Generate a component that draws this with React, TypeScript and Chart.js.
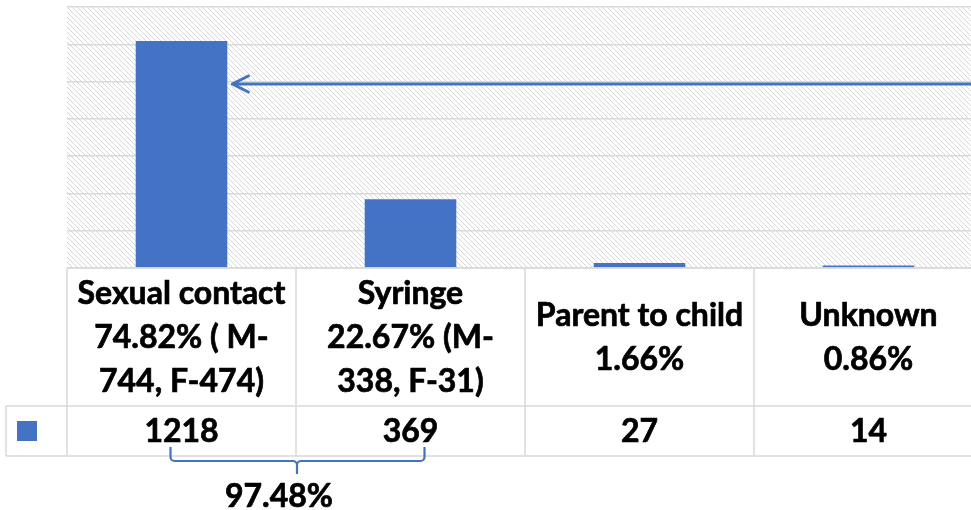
import React, { useEffect, useRef } from "react";
import { Chart, registerables } from "chart.js";

Chart.register(...registerables);

const categoryLines: string[][] = [
  ["Sexual contact", "74.82% ( M-", "744, F-474)"],
  ["Syringe", "22.67% (M-", "338, F-31)"],
  ["Parent to child", "1.66%"],
  ["Unknown", "0.86%"],
];
const categories = categoryLines.map((l) => l.join(" "));
const values = [1218, 369, 27, 14];
const yMax = 1400;
const yStep = 200;
const arrowLevel = 987;
const bracketLabel = "97.48%";

const BLUE = "#4472C4";
const GRID = "#d9d9d9";
const FONT = "bold 32px Lato, 'Open Sans', sans-serif";

function makePattern(): CanvasPattern | string {
  const c = document.createElement("canvas");
  c.width = 5;
  c.height = 5;
  const g = c.getContext("2d");
  if (!g) return "#f2f2f2";
  g.fillStyle = "#ffffff";
  g.fillRect(0, 0, 5, 5);
  g.strokeStyle = "#d6d6d6";
  g.lineWidth = 1;
  g.beginPath();
  g.moveTo(-1, -1);
  g.lineTo(6, 6);
  g.moveTo(-1, 4);
  g.lineTo(1, 6);
  g.moveTo(4, -1);
  g.lineTo(6, 1);
  g.stroke();
  const p = g.createPattern(c, "repeat");
  return p || "#f2f2f2";
}

function boldText(ctx: CanvasRenderingContext2D, t: string, x: number, y: number) {
  ctx.fillText(t, x, y);
  ctx.strokeText(t, x, y);
}

const tablePlugin = {
  id: "dataTable",
  beforeDraw(chart: any) {
    const { ctx, chartArea: a } = chart;
    ctx.save();
    ctx.fillStyle = makePattern();
    ctx.fillRect(a.left, a.top, a.right - a.left, a.bottom - a.top);
    ctx.restore();
  },
  afterDraw(chart: any) {
    const { ctx, chartArea: a } = chart;
    const xs = chart.scales.x;
    const ys = chart.scales.y;
    const colW = xs.getPixelForValue(1) - xs.getPixelForValue(0);
    const bounds: number[] = values.map((_, i) => xs.getPixelForValue(i) - colW / 2);
    bounds.push(bounds[bounds.length - 1] + colW);
    const right = chart.width;
    const tableTop = a.bottom;
    const rowSep = tableTop + 138;
    const tableBottom = rowSep + 50;
    const keyLeft = 6;

    ctx.save();
    ctx.strokeStyle = GRID;
    ctx.lineWidth = 1.5;
    ctx.beginPath();
    ctx.moveTo(bounds[0], tableTop);
    ctx.lineTo(right, tableTop);
    ctx.moveTo(keyLeft, rowSep);
    ctx.lineTo(right, rowSep);
    ctx.moveTo(keyLeft, tableBottom);
    ctx.lineTo(right, tableBottom);
    bounds.forEach((b) => {
      ctx.moveTo(b, tableTop);
      ctx.lineTo(b, tableBottom);
    });
    ctx.moveTo(keyLeft, rowSep);
    ctx.lineTo(keyLeft, tableBottom);
    ctx.stroke();

    // legend key
    ctx.fillStyle = BLUE;
    ctx.fillRect(17, rowSep + 15, 20, 20);

    // header text
    ctx.fillStyle = "#000";
    ctx.strokeStyle = "#000";
    ctx.lineWidth = 0.7;
    ctx.lineJoin = "round";
    ctx.font = FONT;
    ctx.textAlign = "center";
    ctx.textBaseline = "middle";
    const lh = 44;
    const headMid = (tableTop + rowSep) / 2;
    categoryLines.forEach((lines, i) => {
      const cx = xs.getPixelForValue(i);
      const start = headMid - ((lines.length - 1) * lh) / 2;
      lines.forEach((t, j) => boldText(ctx, t, cx, start + j * lh + 1));
    });
    const valMid = (rowSep + tableBottom) / 2;
    values.forEach((v, i) => {
      boldText(ctx, String(v), xs.getPixelForValue(i), valMid + 1);
    });

    // bracket
    const c0 = xs.getPixelForValue(0);
    const c1 = xs.getPixelForValue(1);
    const L = c0 - 11;
    const R = c1 + 14;
    const M = bounds[1] + 1;
    const top = tableBottom - 9;
    const hy = tableBottom + 5;
    const tip = tableBottom + 18;
    ctx.strokeStyle = BLUE;
    ctx.lineWidth = 2.2;
    ctx.beginPath();
    ctx.moveTo(L, top);
    ctx.arcTo(L, hy, M, hy, 4);
    ctx.arcTo(M, hy, M, tip, 4);
    ctx.lineTo(M, tip);
    ctx.moveTo(R, top);
    ctx.arcTo(R, hy, M, hy, 4);
    ctx.arcTo(M, hy, M, tip, 4);
    ctx.stroke();
    ctx.fillStyle = "#000";
    ctx.strokeStyle = "#000";
    ctx.lineWidth = 0.7;
    boldText(ctx, bracketLabel, M - 18, tableBottom + 41);

    // arrow
    const bar = chart.getDatasetMeta(0).data[0];
    const tx = bar.x + bar.width / 2 + 5;
    const ay = ys.getPixelForValue(arrowLevel);
    ctx.strokeStyle = BLUE;
    ctx.lineWidth = 3;
    ctx.lineCap = "round";
    ctx.lineJoin = "round";
    ctx.beginPath();
    ctx.moveTo(right, ay);
    ctx.lineTo(tx, ay);
    ctx.moveTo(tx + 16, ay - 8);
    ctx.lineTo(tx, ay);
    ctx.lineTo(tx + 16, ay + 8);
    ctx.stroke();
    ctx.restore();
  },
};

export default function App() {
  const ref = useRef<HTMLCanvasElement | null>(null);
  useEffect(() => {
    if (!ref.current) return;
    const chart = new Chart(ref.current, {
      type: "bar",
      data: {
        labels: categories,
        datasets: [
          {
            data: values,
            backgroundColor: BLUE,
            borderWidth: 0,
            categoryPercentage: 1,
            barPercentage: 0.4,
          },
        ],
      },
      options: {
        animation: false,
        responsive: false,
        layout: { padding: { left: 67, top: 7, right: 17, bottom: 242 } },
        plugins: { legend: { display: false }, tooltip: { enabled: false } },
        scales: {
          x: {
            ticks: { display: false },
            grid: { display: false, drawTicks: false },
            border: { display: false },
          },
          y: {
            min: 0,
            max: yMax,
            ticks: { display: false, stepSize: yStep },
            grid: { color: GRID, lineWidth: 1.5, drawTicks: false },
            border: { display: false },
          },
        },
      },
      plugins: [tablePlugin],
    });
    return () => chart.destroy();
  }, []);
  return (
    <div
      style={{
        position: "fixed",
        left: 0,
        top: 0,
        width: 971,
        height: 510,
        overflow: "hidden",
        background: "#fff",
      }}
    >
      <canvas ref={ref} width={1000} height={510} style={{ width: 1000, height: 510, display: "block" }} />
    </div>
  );
}
